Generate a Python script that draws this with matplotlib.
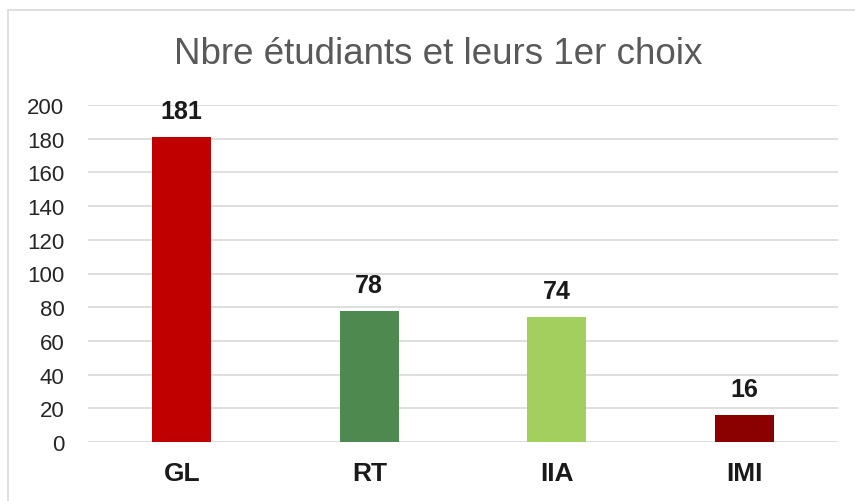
import matplotlib
matplotlib.use("Agg")
import matplotlib.pyplot as plt
from matplotlib.patches import Rectangle

categories = ["GL", "RT", "IIA", "IMI"]
values = [181, 78, 74, 16]
colors = ["#C00000", "#4E8A4F", "#A3CF5F", "#8B0000"]
yticks = [0, 20, 40, 60, 80, 100, 120, 140, 160, 180, 200]
title = "Nbre étudiants et leurs 1er choix"

plt.rcParams['font.family'] = ['Liberation Sans', 'DejaVu Sans']

fig = plt.figure(figsize=(8.55, 5.02), dpi=100)
ax = fig.add_axes([88/855, 1-443/502, 750/855, 337/502])

x = range(len(categories))
ax.bar(x, values, width=0.315, color=colors, zorder=3)
ax.set_xlim(-0.5, 3.5)
ax.set_ylim(0, 200)
ax.set_yticks(yticks)
ax.set_yticklabels([str(t) for t in yticks], fontsize=16, color="#262626")
ax.set_xticks(list(x))
ax.set_xticklabels(categories, fontsize=19, fontweight="bold", color="#1a1a1a")
ax.tick_params(axis="y", length=0, pad=17)
ax.tick_params(axis="x", length=0, pad=14)
ax.grid(axis="y", color="#D9D9D9", linewidth=1.2, zorder=0)
for s in ax.spines.values():
    s.set_visible(False)

for xi, v in zip(x, values):
    ax.annotate(str(v), (xi, v), xytext=(0, 10), textcoords="offset points",
                ha="center", va="bottom", fontsize=18, fontweight="bold", color="#1a1a1a")

fig.text(438/855, 1-54/502, title, ha="center", va="center", fontsize=26.5, color="#595959")

rect = Rectangle((8/855, -0.1), 1.2, 1-11/502+0.1, transform=fig.transFigure,
                 fill=False, edgecolor="#D9D9D9", linewidth=1.2, clip_on=False)
fig.patches.append(rect)

fig.savefig("out.png", dpi=100)
